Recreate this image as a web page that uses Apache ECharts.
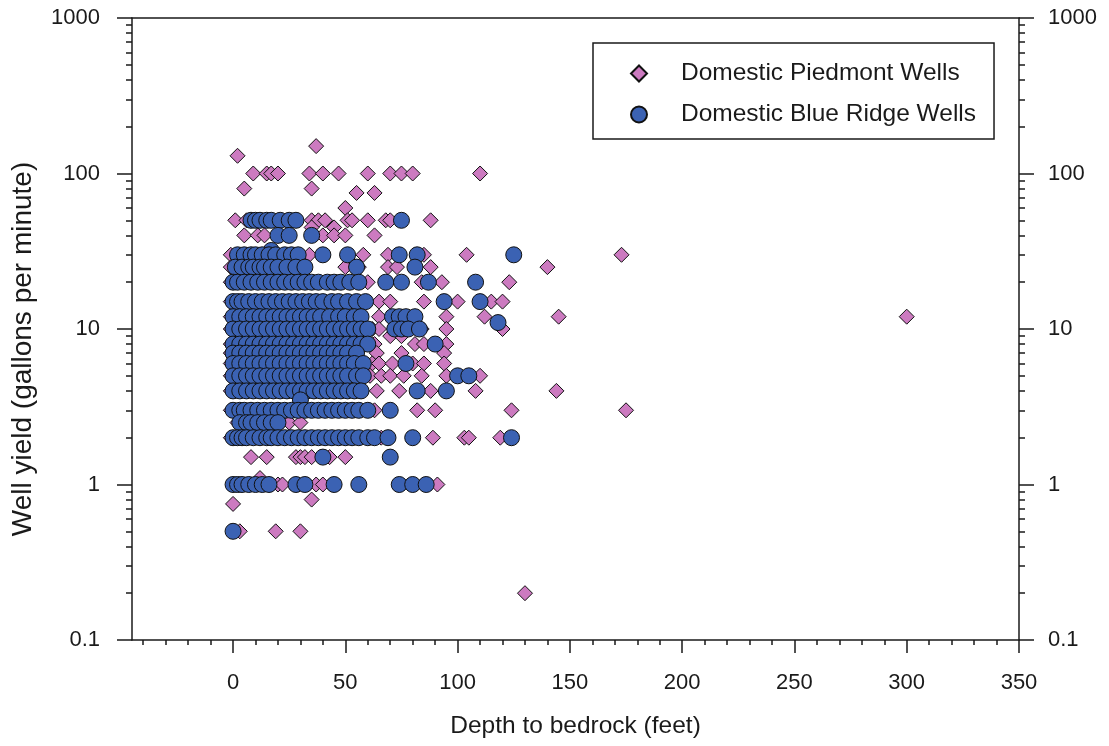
<!DOCTYPE html>
<html>
<head>
<meta charset="utf-8">
<script src="https://cdn.jsdelivr.net/npm/echarts@6/dist/echarts.min.js"></script>
<style>
html,body{margin:0;padding:0;background:#fff;}
#chart{width:1109px;height:746px;}
</style>
</head>
<body>
<div id="chart"></div>
<script>
// ---------- DATA ----------
const seriesNames = ['Domestic Piedmont Wells', 'Domestic Blue Ridge Wells'];
const xTitle = 'Depth to bedrock (feet)';
const yTitle = 'Well yield (gallons per minute)';

const xMajorTicks = [0, 50, 100, 150, 200, 250, 300, 350];
const xMinorTicks = [-40, -30, -20, -10, 10, 20, 30, 40, 60, 70, 80, 90, 110, 120, 130, 140, 160, 170, 180, 190,
  210, 220, 230, 240, 260, 270, 280, 290, 310, 320, 330, 340];
const yMajorTicks = [0.1, 1, 10, 100, 1000];
const yMinorTicks = [0.2, 0.3, 0.4, 0.5, 0.6, 0.7, 0.8, 0.9, 2, 3, 4, 5, 6, 7, 8, 9,
  20, 30, 40, 50, 60, 70, 80, 90, 200, 300, 400, 500, 600, 700, 800, 900];

// [depth to bedrock (ft), well yield (gpm)]
const piedmontWells = [
  [2, 130], [37, 150],
  [9, 100], [15, 100], [17, 100], [20, 100], [34, 100], [40, 100], [47, 100], [60, 100], [70, 100], [75, 100], [80, 100], [110, 100],
  [5, 80], [35, 80], [55, 75], [63, 75], [50, 60],
  [1, 50], [6, 50], [35, 50], [38, 50], [41, 50], [51, 50], [53, 50], [60, 50], [68, 50], [70, 50], [88, 50],
  [35, 45], [45, 45],
  [5, 40], [11, 40], [14, 40], [40, 40], [45, 40], [50, 40], [63, 40],
  [-1, 30], [2, 30], [34, 30], [58, 30], [69, 30], [85, 30], [104, 30], [173, 30],
  [-1, 25], [50, 25], [56, 25], [69, 25], [73, 25], [88, 25], [140, 25],
  [-1, 20], [60, 20], [84, 20], [93, 20], [123, 20],
  [-1, 15], [48, 15], [65, 15], [70, 15], [85, 15], [100, 15], [115, 15], [120, 15],
  [-1, 12], [65, 12], [95, 12], [112, 12], [145, 12], [300, 12],
  [-1, 10], [62, 10], [65, 10], [84, 10], [95, 10], [120, 10],
  [70, 9], [75, 9],
  [-1, 8], [63, 8], [81, 8], [85, 8], [95, 8],
  [-1, 7], [64, 7], [75, 7], [94, 7],
  [-1, 6], [62, 6], [65, 6], [71, 6], [80, 6], [85, 6], [94, 6],
  [-1, 5], [61, 5], [66, 5], [70, 5], [76, 5], [84, 5], [95, 5], [110, 5],
  [-1, 4], [64, 4], [74, 4], [88, 4], [108, 4], [144, 4],
  [-1, 3], [54, 3], [63, 3], [82, 3], [90, 3], [124, 3], [175, 3],
  [2, 2.5], [25, 2.5], [30, 2.5],
  [-1, 2], [66, 2], [89, 2], [103, 2], [105, 2], [119, 2],
  [8, 1.5], [15, 1.5], [28, 1.5], [30, 1.5], [32, 1.5], [35, 1.5], [43, 1.5], [50, 1.5],
  [12, 1.1],
  [20, 1], [22, 1], [37, 1], [40, 1], [91, 1],
  [35, 0.8], [0, 0.75],
  [3, 0.5], [19, 0.5], [30, 0.5],
  [130, 0.2]
];

const blueRidgeWells = [
  [8, 50], [10, 50], [12, 50], [15, 50], [17, 50], [21, 50], [25, 50], [28, 50], [75, 50],
  [20, 40], [25, 40], [35, 40], [17, 32],
  [2, 30], [5, 30], [8, 30], [10, 30], [13, 30], [16, 30], [19, 30], [23, 30], [26, 30], [29, 30], [40, 30], [51, 30], [74, 30], [82, 30], [125, 30],
  [1, 25], [4, 25], [7, 25], [9, 25], [12, 25], [14, 25], [17, 25], [20, 25], [24, 25], [28, 25], [32, 25], [55, 25], [81, 25],
  [0, 20], [2, 20], [5, 20], [8, 20], [11, 20], [14, 20], [17, 20], [20, 20], [23, 20], [26, 20], [29, 20], [32, 20], [35, 20], [38, 20],
  [42, 20], [45, 20], [48, 20], [52, 20], [56, 20], [68, 20], [75, 20], [87, 20], [108, 20],
  [0, 15], [2, 15], [4, 15], [7, 15], [10, 15], [13, 15], [16, 15], [19, 15], [22, 15], [25, 15], [28, 15], [31, 15], [34, 15], [37, 15],
  [40, 15], [44, 15], [47, 15], [51, 15], [55, 15], [59, 15], [94, 15], [110, 15],
  [0, 12], [3, 12], [6, 12], [9, 12], [12, 12], [15, 12], [18, 12], [21, 12], [24, 12], [27, 12], [30, 12], [33, 12], [36, 12], [39, 12],
  [43, 12], [47, 12], [50, 12], [54, 12], [57, 12], [71, 12], [74, 12], [77, 12], [81, 12],
  [118, 11],
  [0, 10], [3, 10], [6, 10], [9, 10], [12, 10], [15, 10], [18, 10], [21, 10], [24, 10], [27, 10], [30, 10], [33, 10], [36, 10], [39, 10],
  [42, 10], [45, 10], [48, 10], [51, 10], [54, 10], [57, 10], [60, 10], [72, 10], [75, 10], [78, 10], [83, 10],
  [0, 8], [3, 8], [6, 8], [9, 8], [12, 8], [15, 8], [18, 8], [21, 8], [24, 8], [27, 8], [30, 8], [33, 8], [36, 8], [39, 8],
  [42, 8], [45, 8], [48, 8], [51, 8], [54, 8], [57, 8], [60, 8], [90, 8],
  [0, 7], [3, 7], [6, 7], [9, 7], [12, 7], [15, 7], [18, 7], [21, 7], [24, 7], [27, 7], [30, 7], [33, 7], [36, 7], [39, 7],
  [42, 7], [45, 7], [48, 7], [51, 7], [55, 7],
  [0, 6], [3, 6], [6, 6], [9, 6], [12, 6], [15, 6], [18, 6], [21, 6], [24, 6], [27, 6], [30, 6], [33, 6], [36, 6], [39, 6],
  [42, 6], [45, 6], [48, 6], [51, 6], [54, 6], [58, 6], [77, 6],
  [0, 5], [3, 5], [6, 5], [9, 5], [12, 5], [15, 5], [18, 5], [21, 5], [24, 5], [27, 5], [30, 5], [33, 5], [36, 5], [39, 5],
  [42, 5], [45, 5], [48, 5], [51, 5], [55, 5], [58, 5], [100, 5], [105, 5],
  [0, 4], [3, 4], [6, 4], [9, 4], [12, 4], [15, 4], [18, 4], [21, 4], [24, 4], [27, 4], [30, 4], [33, 4], [36, 4], [39, 4],
  [42, 4], [45, 4], [48, 4], [51, 4], [54, 4], [57, 4], [82, 4], [95, 4],
  [30, 3.5],
  [0, 3], [3, 3], [5, 3], [8, 3], [11, 3], [14, 3], [17, 3], [20, 3], [23, 3], [26, 3], [29, 3], [32, 3], [35, 3], [38, 3],
  [41, 3], [44, 3], [47, 3], [50, 3], [53, 3], [56, 3], [60, 3], [70, 3],
  [3, 2.5], [6, 2.5], [8, 2.5], [11, 2.5], [14, 2.5], [17, 2.5], [20, 2.5],
  [0, 2], [2, 2], [4, 2], [6, 2], [9, 2], [12, 2], [15, 2], [17, 2], [20, 2], [23, 2], [26, 2], [29, 2], [32, 2], [35, 2],
  [38, 2], [41, 2], [44, 2], [47, 2], [50, 2], [53, 2], [56, 2], [60, 2], [63, 2], [69, 2], [80, 2], [124, 2],
  [40, 1.5], [70, 1.5],
  [0, 1], [2, 1], [4, 1], [7, 1], [10, 1], [13, 1], [16, 1], [28, 1], [32, 1], [45, 1], [56, 1], [74, 1], [80, 1], [86, 1],
  [0, 0.5]
];

// ---------- CHART ----------
const FONT = "'Liberation Sans', Arial, sans-serif";
const INK = '#1a1a1a';
const chart = echarts.init(document.getElementById('chart'), null, {renderer: 'canvas'});

function yLabel(v) {
  return v < 1 ? v.toFixed(1) : String(Math.round(v));
}

const option = {
  animation: false,
  backgroundColor: '#fff',
  grid: {left: 132, right: 90, top: 18, bottom: 106, containLabel: false, outerBoundsMode: 'none'},
  legend: {
    orient: 'vertical',
    left: 593, top: 43,
    padding: [18, 18, 12, 37],
    itemGap: 16,
    itemWidth: 16, itemHeight: 16,
    borderColor: INK, borderWidth: 1.5,
    backgroundColor: '#fff',
    textStyle: {fontSize: 24.5, fontFamily: FONT, color: INK, padding: [0, 0, 0, 29]},
    data: seriesNames,
    selectedMode: false
  },
  xAxis: [
    {
      type: 'value', min: -45, max: 350, position: 'bottom',
      splitLine: {show: false},
      axisLine: {show: true, onZero: false, lineStyle: {color: INK, width: 1.5}},
      axisTick: {show: true, customValues: xMajorTicks, length: 13, lineStyle: {color: INK, width: 1.5}},
      axisLabel: {show: true, customValues: xMajorTicks, margin: 32, fontSize: 22, fontFamily: FONT, color: INK},
      name: xTitle, nameLocation: 'middle', nameGap: 74,
      nameTextStyle: {fontSize: 24.5, fontFamily: FONT, color: INK}
    },
    {
      type: 'value', min: -45, max: 350, position: 'bottom',
      splitLine: {show: false},
      axisLine: {show: false, onZero: false},
      axisTick: {show: true, customValues: xMinorTicks, length: 5, lineStyle: {color: INK, width: 1.5}},
      axisLabel: {show: false}
    },
    {
      type: 'value', min: -45, max: 350, position: 'top',
      splitLine: {show: false},
      axisLine: {show: true, onZero: false, lineStyle: {color: INK, width: 1.5}},
      axisTick: {show: false},
      axisLabel: {show: false}
    }
  ],
  yAxis: [
    {
      type: 'log', logBase: 10, min: 0.1, max: 1000, position: 'left',
      splitLine: {show: false},
      axisLine: {show: true, onZero: false, lineStyle: {color: INK, width: 1.5}},
      axisTick: {show: true, customValues: yMajorTicks, length: 15, lineStyle: {color: INK, width: 1.5}},
      axisLabel: {show: true, customValues: yMajorTicks, margin: 32, fontSize: 22, fontFamily: FONT, color: INK, formatter: yLabel}
    },
    {
      type: 'log', logBase: 10, min: 0.1, max: 1000, position: 'left',
      splitLine: {show: false},
      axisLine: {show: false, onZero: false},
      axisTick: {show: true, customValues: yMinorTicks, length: 6, lineStyle: {color: INK, width: 1.5}},
      axisLabel: {show: false}
    },
    {
      type: 'log', logBase: 10, min: 0.1, max: 1000, position: 'right',
      splitLine: {show: false},
      axisLine: {show: true, onZero: false, lineStyle: {color: INK, width: 1.5}},
      axisTick: {show: true, customValues: yMajorTicks, length: 15, lineStyle: {color: INK, width: 1.5}},
      axisLabel: {show: true, customValues: yMajorTicks, margin: 29, fontSize: 22, fontFamily: FONT, color: INK, formatter: yLabel}
    },
    {
      type: 'log', logBase: 10, min: 0.1, max: 1000, position: 'right',
      splitLine: {show: false},
      axisLine: {show: false, onZero: false},
      axisTick: {show: true, customValues: yMinorTicks, length: 6, lineStyle: {color: INK, width: 1.5}},
      axisLabel: {show: false}
    }
  ],
  graphic: [{
    type: 'text',
    x: 23, y: 349,
    rotation: Math.PI / 2,
    style: {text: yTitle, fontSize: 28, fontFamily: FONT, fill: INK, align: 'center', verticalAlign: 'middle'}
  }],
  series: [
    {
      name: seriesNames[0], type: 'scatter', xAxisIndex: 0, yAxisIndex: 0,
      symbol: 'diamond', symbolSize: 15,
      itemStyle: {color: '#cc7ac0', borderColor: '#111', borderWidth: 1, opacity: 1},
      emphasis: {disabled: true},
      data: piedmontWells
    },
    {
      name: seriesNames[1], type: 'scatter', xAxisIndex: 0, yAxisIndex: 0,
      symbol: 'circle', symbolSize: 16,
      itemStyle: {color: '#3b62b3', borderColor: '#111', borderWidth: 1, opacity: 1},
      emphasis: {disabled: true},
      data: blueRidgeWells
    }
  ]
};
chart.setOption(option);
</script>
</body>
</html>
